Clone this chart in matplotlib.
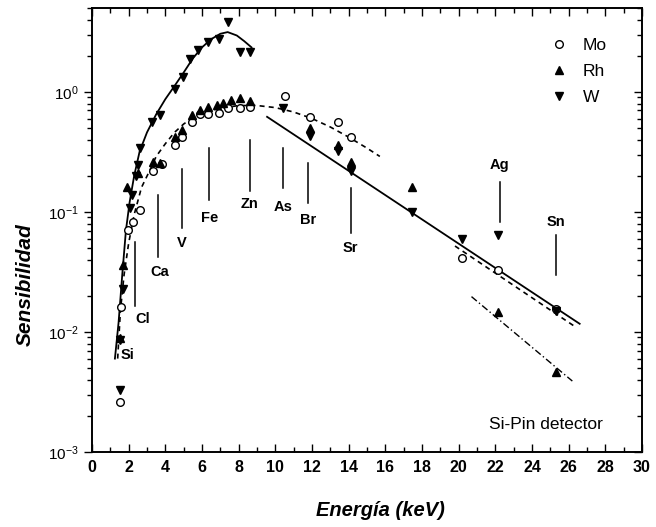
import matplotlib
matplotlib.use('Agg')
import matplotlib.pyplot as plt
from matplotlib.ticker import LogLocator, MultipleLocator, NullFormatter
import numpy as np

plt.rcParams['font.family'] = ['Liberation Sans', 'DejaVu Sans']
plt.rcParams['mathtext.fontset'] = 'custom'
plt.rcParams['mathtext.rm'] = 'Liberation Sans'
plt.rcParams['mathtext.it'] = 'Liberation Sans:italic'
plt.rcParams['mathtext.bf'] = 'Liberation Sans:bold'

# ---- data ----
mo_x = [1.5, 1.6, 1.95, 2.25, 2.6, 3.3, 3.8, 4.5, 4.9, 5.45, 5.9, 6.3, 6.9, 7.4, 8.07, 8.6,
        10.5, 11.9, 13.4, 14.1, 20.2, 22.15, 25.3]
mo_y = [0.0026, 0.016, 0.071, 0.083, 0.104, 0.22, 0.25, 0.36, 0.42, 0.56, 0.66, 0.66, 0.67, 0.73, 0.73, 0.75,
        0.93, 0.62, 0.56, 0.42, 0.041, 0.033, 0.0155]

rh_x = [1.5, 1.7, 1.9, 2.5, 3.3, 3.7, 4.5, 4.9, 5.45, 5.9, 6.3, 6.8, 7.15, 7.6, 8.07, 8.6,
        11.9, 13.4, 14.1, 17.45, 22.15, 25.3]
rh_y = [0.0089, 0.036, 0.16, 0.21, 0.26, 0.255, 0.42, 0.48, 0.64, 0.71, 0.75, 0.78, 0.81, 0.86, 0.89, 0.84,
        0.50, 0.36, 0.26, 0.16, 0.0147, 0.0046]

w_x = [1.5, 1.5, 1.7, 2.05, 2.2, 2.4, 2.5, 2.6, 3.27, 3.7, 4.5, 4.97, 5.35, 5.8, 6.3, 6.9, 7.4, 8.07, 8.6,
       10.4, 11.9, 13.4, 14.1, 17.45, 20.2, 22.15, 25.3]
w_y = [0.0033, 0.0085, 0.023, 0.108, 0.138, 0.2, 0.246, 0.34, 0.56, 0.64, 1.06, 1.33, 1.88, 2.24, 2.6, 2.77, 3.8, 2.15, 2.15,
       0.74, 0.43, 0.32, 0.22, 0.10, 0.06, 0.064, 0.015]

# fitted curves (hand-read knots)
wfit_x = [1.25, 1.45, 1.65, 1.85, 2.05, 2.3, 2.6, 3.0, 3.5, 4.0, 4.5, 5.0, 5.5, 6.0, 6.5, 7.0, 7.4, 7.9, 8.3, 8.7]
wfit_y = [0.006, 0.012, 0.03, 0.07, 0.12, 0.2, 0.32, 0.46, 0.65, 0.87, 1.12, 1.45, 1.9, 2.35, 2.75, 3.05, 3.15, 2.95, 2.65, 2.35]

mofit_x = [1.4, 1.55, 1.75, 2.0, 2.3, 2.7, 3.2, 3.5, 4.0, 4.5, 5.0, 5.5, 6.0, 6.5, 7.0, 8.0, 9.0, 10.0,
           11.0, 12.0, 13.0, 14.0, 15.0, 15.7]
mofit_y = [0.006, 0.015, 0.03, 0.055, 0.095, 0.16, 0.23, 0.29, 0.37, 0.46, 0.54, 0.61, 0.66, 0.70, 0.73, 0.77, 0.77, 0.74,
           0.68, 0.60, 0.51, 0.42, 0.34, 0.29]

solid_x = [9.55, 26.6]
solid_y = [0.62, 0.0117]
mohigh_x = [19.8, 26.3]
mohigh_y = [0.052, 0.0112]
rhhigh_x = [20.7, 26.2]
rhhigh_y = [0.0197, 0.0039]

# element markers: name, energy, line top, line bottom, label y
elem_names = ['Si', 'Cl', 'Ca', 'V', 'Fe', 'Zn', 'As', 'Br', 'Sr', 'Ag', 'Sn']
elem_x = [1.95, 2.35, 3.6, 4.9, 6.4, 8.6, 10.4, 11.8, 14.1, 22.25, 25.3]
elem_label_x = [1.95, 2.75, 3.7, 4.9, 6.4, 8.6, 10.4, 11.8, 14.1, 22.25, 25.3]
elem_top = [np.nan, 0.056, 0.138, 0.23, 0.34, 0.40, 0.34, 0.256, 0.158, 0.178, 0.064]
elem_bot = [np.nan, 0.0165, 0.042, 0.074, 0.126, 0.15, 0.158, 0.119, 0.067, 0.082, 0.030]
elem_lab_y = [0.0064, 0.0129, 0.0316, 0.055, 0.089, 0.117, 0.11, 0.086, 0.05, 0.246, 0.082]

# ---- figure ----
fig = plt.figure(figsize=(6.56, 5.27), dpi=100)
ax = fig.add_axes([92/656, 75/527, 550/656, 444/527])
ax.set_yscale('log')
ax.set_xlim(0, 30)
ax.set_ylim(1e-3, 5)

ax.plot(wfit_x, wfit_y, '-', color='black', lw=1.3)
ax.plot(mofit_x, mofit_y, color='black', lw=1.2, ls=(0, (3, 2.5)))
ax.plot(solid_x, solid_y, '-', color='black', lw=1.3)
ax.plot(mohigh_x, mohigh_y, color='black', lw=1.2, ls=(0, (3, 2.5)))
ax.plot(rhhigh_x, rhhigh_y, color='black', lw=1.0, ls=(0, (5, 2, 1, 2)))

ax.plot(mo_x, mo_y, 'o', mfc='white', mec='black', mew=1.0, ms=5.5, ls='none', label='Mo')
ax.plot(rh_x, rh_y, '^', color='black', ms=6, ls='none', label='Rh')
ax.plot(w_x, w_y, 'v', color='black', ms=6, ls='none', label='W')

for n, x, lx, t, b, ly in zip(elem_names, elem_x, elem_label_x, elem_top, elem_bot, elem_lab_y):
    if not np.isnan(t):
        ax.plot([x, x], [b, t], '-', color='black', lw=1.1)
    ax.text(lx, ly, n, ha='center', va='center', fontsize=10.5, fontweight='bold')

ax.text(0.929, 0.063, 'Si-Pin detector', transform=ax.transAxes, ha='right', va='center', fontsize=12.5)

leg = ax.legend(loc='upper right', bbox_to_anchor=(0.965, 0.968), frameon=False, fontsize=12.5,
                handletextpad=0.9, labelspacing=0.62, handlelength=1.0)

ax.xaxis.set_major_locator(MultipleLocator(2))
ax.xaxis.set_minor_locator(MultipleLocator(1))
ax.tick_params(axis='x', which='both', direction='in', top=True, bottom=True, labelsize=11.5, pad=6)
ax.tick_params(axis='x', which='major', length=6, width=1)
ax.tick_params(axis='x', which='minor', length=3.5, width=1)
for lab in ax.get_xticklabels():
    lab.set_fontweight('bold')

ax.yaxis.set_major_locator(LogLocator(base=10, numticks=10))
ax.yaxis.set_minor_locator(LogLocator(base=10, subs=np.arange(2, 10), numticks=20))
ax.yaxis.set_minor_formatter(NullFormatter())
ax.tick_params(axis='y', which='both', direction='out', left=True, right=False, labelsize=11)
ax.tick_params(axis='y', which='major', length=6, width=1)
ax.tick_params(axis='y', which='minor', length=3.5, width=1)

ax2 = ax.twinx()
ax2.set_yscale('log')
ax2.set_ylim(ax.get_ylim())
ax2.yaxis.set_major_locator(LogLocator(base=10, numticks=10))
ax2.yaxis.set_minor_locator(LogLocator(base=10, subs=np.arange(2, 10), numticks=20))
ax2.yaxis.set_major_formatter(NullFormatter())
ax2.yaxis.set_minor_formatter(NullFormatter())
ax2.tick_params(axis='y', which='both', direction='in', right=True, left=False)
ax2.tick_params(axis='y', which='major', length=6, width=1)
ax2.tick_params(axis='y', which='minor', length=3.5, width=1)

for a in (ax, ax2):
    for s in a.spines.values():
        s.set_linewidth(1.2)

ax.set_xlabel('Energía (keV)', fontsize=14.5, fontweight='bold', fontstyle='italic')
ax.set_ylabel('Sensibilidad', fontsize=15, fontweight='bold', fontstyle='italic')
ax.xaxis.set_label_coords(0.524, -0.111)
ax.yaxis.set_label_coords(-0.105, 0.378)

fig.savefig('out.png', dpi=100)
